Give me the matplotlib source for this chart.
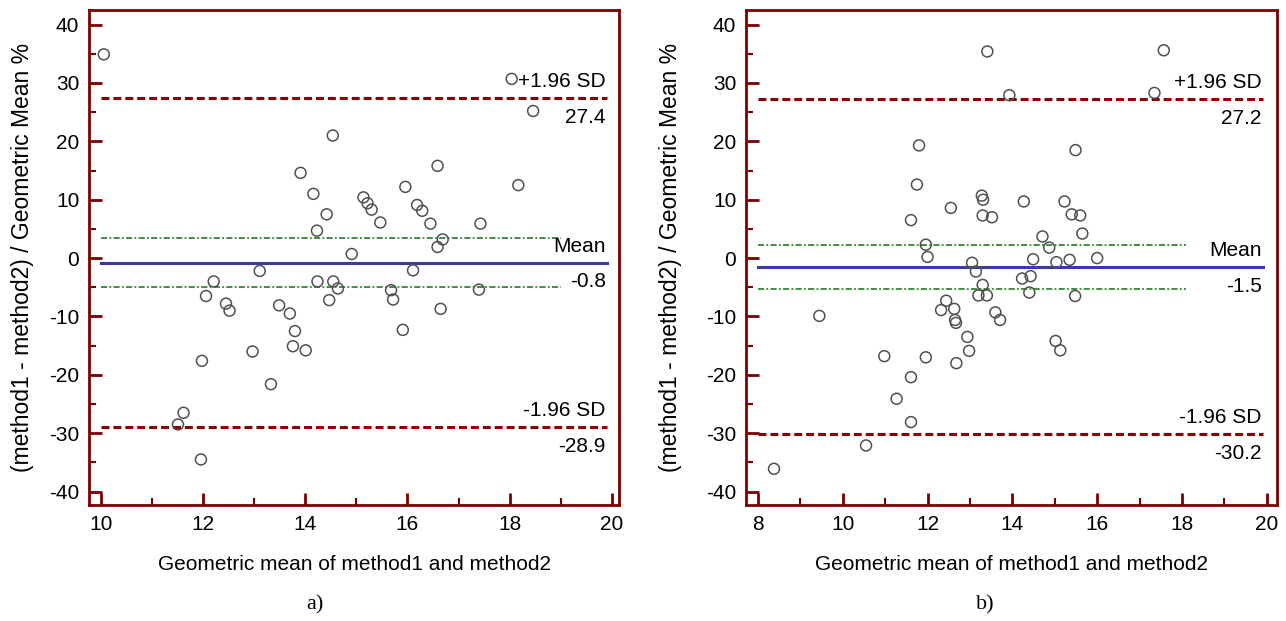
import matplotlib
matplotlib.use('Agg')
import matplotlib.pyplot as plt
import numpy as np

# panel a)
x_a = [10.06, 14.54, 13.91, 14.16, 14.42, 14.23, 14.91, 15.14, 15.22, 15.30,
       15.47, 18.04, 18.46, 15.96, 16.59, 16.19, 16.29, 16.45, 17.43, 18.17,
       16.69, 16.59, 13.11, 12.21, 12.06, 12.45, 12.52, 13.49, 13.70, 13.80,
       13.76, 14.01, 12.97, 11.98, 13.33, 11.62, 11.51, 11.96, 14.24, 14.55,
       14.64, 14.47, 16.11, 15.68, 15.72, 15.91, 16.65, 17.40]
y_a = [34.9, 21.0, 14.6, 11.0, 7.5, 4.7, 0.7, 10.4, 9.4, 8.3,
       6.1, 30.7, 25.2, 12.2, 15.8, 9.1, 8.1, 5.9, 5.9, 12.5,
       3.2, 1.9, -2.2, -4.0, -6.5, -7.8, -9.0, -8.1, -9.5, -12.5,
       -15.1, -15.8, -16.0, -17.6, -21.6, -26.5, -28.5, -34.5, -4.0, -4.0,
       -5.2, -7.2, -2.1, -5.5, -7.1, -12.3, -8.7, -5.4]
lim_a = {'upper': 27.4, 'mean': -0.8, 'lower': -28.9, 'ci': (3.4, -5.0)}

# panel b)
x_b = [13.41, 13.93, 11.80, 11.75, 12.55, 11.61, 13.28, 13.31, 13.30, 13.52,
       11.96, 12.00, 17.57, 17.35, 15.49, 14.27, 15.23, 15.40, 15.60, 15.65,
       14.71, 14.87, 14.49, 15.04, 15.35, 16.00, 14.23, 14.43, 14.40, 15.48,
       15.02, 15.13, 13.05, 13.14, 13.30, 13.20, 13.40, 12.44, 12.32, 12.63,
       12.65, 12.67, 13.60, 13.71, 12.94, 12.98, 12.68, 11.96, 10.98, 11.61,
       11.27, 11.61, 10.55, 8.38, 9.45]
y_b = [35.4, 27.9, 19.3, 12.6, 8.6, 6.5, 10.7, 10.0, 7.3, 7.0,
       2.3, 0.2, 35.6, 28.3, 18.5, 9.7, 9.7, 7.5, 7.3, 4.2,
       3.7, 1.8, -0.2, -0.7, -0.3, 0.0, -3.5, -3.1, -5.9, -6.5,
       -14.2, -15.8, -0.8, -2.3, -4.6, -6.4, -6.4, -7.3, -8.9, -8.7,
       -10.6, -11.1, -9.3, -10.6, -13.5, -15.9, -18.0, -17.0, -16.8, -20.4,
       -24.1, -28.1, -32.1, -36.1, -9.9]
lim_b = {'upper': 27.2, 'mean': -1.5, 'lower': -30.2, 'ci': (2.2, -5.3)}

plt.rcParams['font.family'] = ['Liberation Sans', 'DejaVu Sans']
plt.rcParams['axes.unicode_minus'] = False
dark = '#7a0000'

fig = plt.figure(figsize=(12.86, 6.21), dpi=100)

def panel(rect, xs, ys, lim, xlim, xticks, ci_end, ylab_x, caption, cap_x):
    ax = fig.add_axes(rect)
    ax.scatter(xs, ys, s=62, facecolors='none', edgecolors='#505050', linewidths=1.1, zorder=3)
    x0, x1 = xticks[0], xticks[-1]
    xe = x1 - 0.1
    ax.plot([x0, xe], [lim['upper']] * 2, color='#8b0000', lw=2.2, ls=(0, (2.6, 1.3)))
    ax.plot([x0, xe], [lim['lower']] * 2, color='#8b0000', lw=2.2, ls=(0, (2.6, 1.3)))
    ax.plot([x0, xe], [lim['mean']] * 2, color='#3a3aa0', lw=2.2)
    for c in lim['ci']:
        ax.plot([x0, ci_end], [c, c], color='#107010', lw=1.1, ls=(0, (4, 1.5, 1.2, 1.5)))
    tx = x1 - 0.12
    fs = 15
    for key, top in [('upper', '+1.96 SD'), ('mean', 'Mean'), ('lower', '-1.96 SD')]:
        v = lim[key]
        ax.annotate(top, (tx, v), xytext=(0, 5), textcoords='offset points',
                    ha='right', va='bottom', fontsize=fs)
        ax.annotate('%.1f' % v, (tx, v), xytext=(0, -7), textcoords='offset points',
                    ha='right', va='top', fontsize=fs)
    ax.set_xlim(*xlim)
    ax.set_ylim(-42.3, 42.5)
    ax.set_xticks(xticks)
    ax.set_xticks(np.arange(x0 + 1, x1, 2), minor=True)
    ax.set_yticks(np.arange(-40, 41, 10))
    ax.set_yticks(np.arange(-35, 40, 10), minor=True)
    ax.tick_params(which='both', direction='in', color=dark, labelsize=fs, top=False, right=False)
    ax.tick_params(which='major', length=9, width=2.0, pad=7)
    ax.tick_params(which='minor', length=5, width=1.5)
    for sp in ax.spines.values():
        sp.set_color(dark)
        sp.set_linewidth(2.0)
    ax.set_xlabel('Geometric mean of method1 and method2', fontsize=fs)
    ax.xaxis.set_label_coords(0.5, -0.1)
    ax.set_ylabel('(method1 - method2) / Geometric Mean %', fontsize=16.5)
    ax.yaxis.set_label_coords(ylab_x, 0.5)
    fig.text(cap_x, 1 - 605 / 621, caption, ha='center', va='center', fontsize=16,
             family=['Liberation Serif', 'DejaVu Serif'])
    return ax

panel([89 / 1286, 116 / 621, 530 / 1286, 495 / 621], x_a, y_a, lim_a,
      (9.77, 20.14), np.arange(10, 21, 2), 19.0, -0.104, 'a)', 315 / 1286)
panel([746 / 1286, 116 / 621, 531 / 1286, 495 / 621], x_b, y_b, lim_b,
      (7.72, 20.24), np.arange(8, 21, 2), 18.1, -0.12, 'b)', 985 / 1286)

fig.savefig('out.png', dpi=100)
